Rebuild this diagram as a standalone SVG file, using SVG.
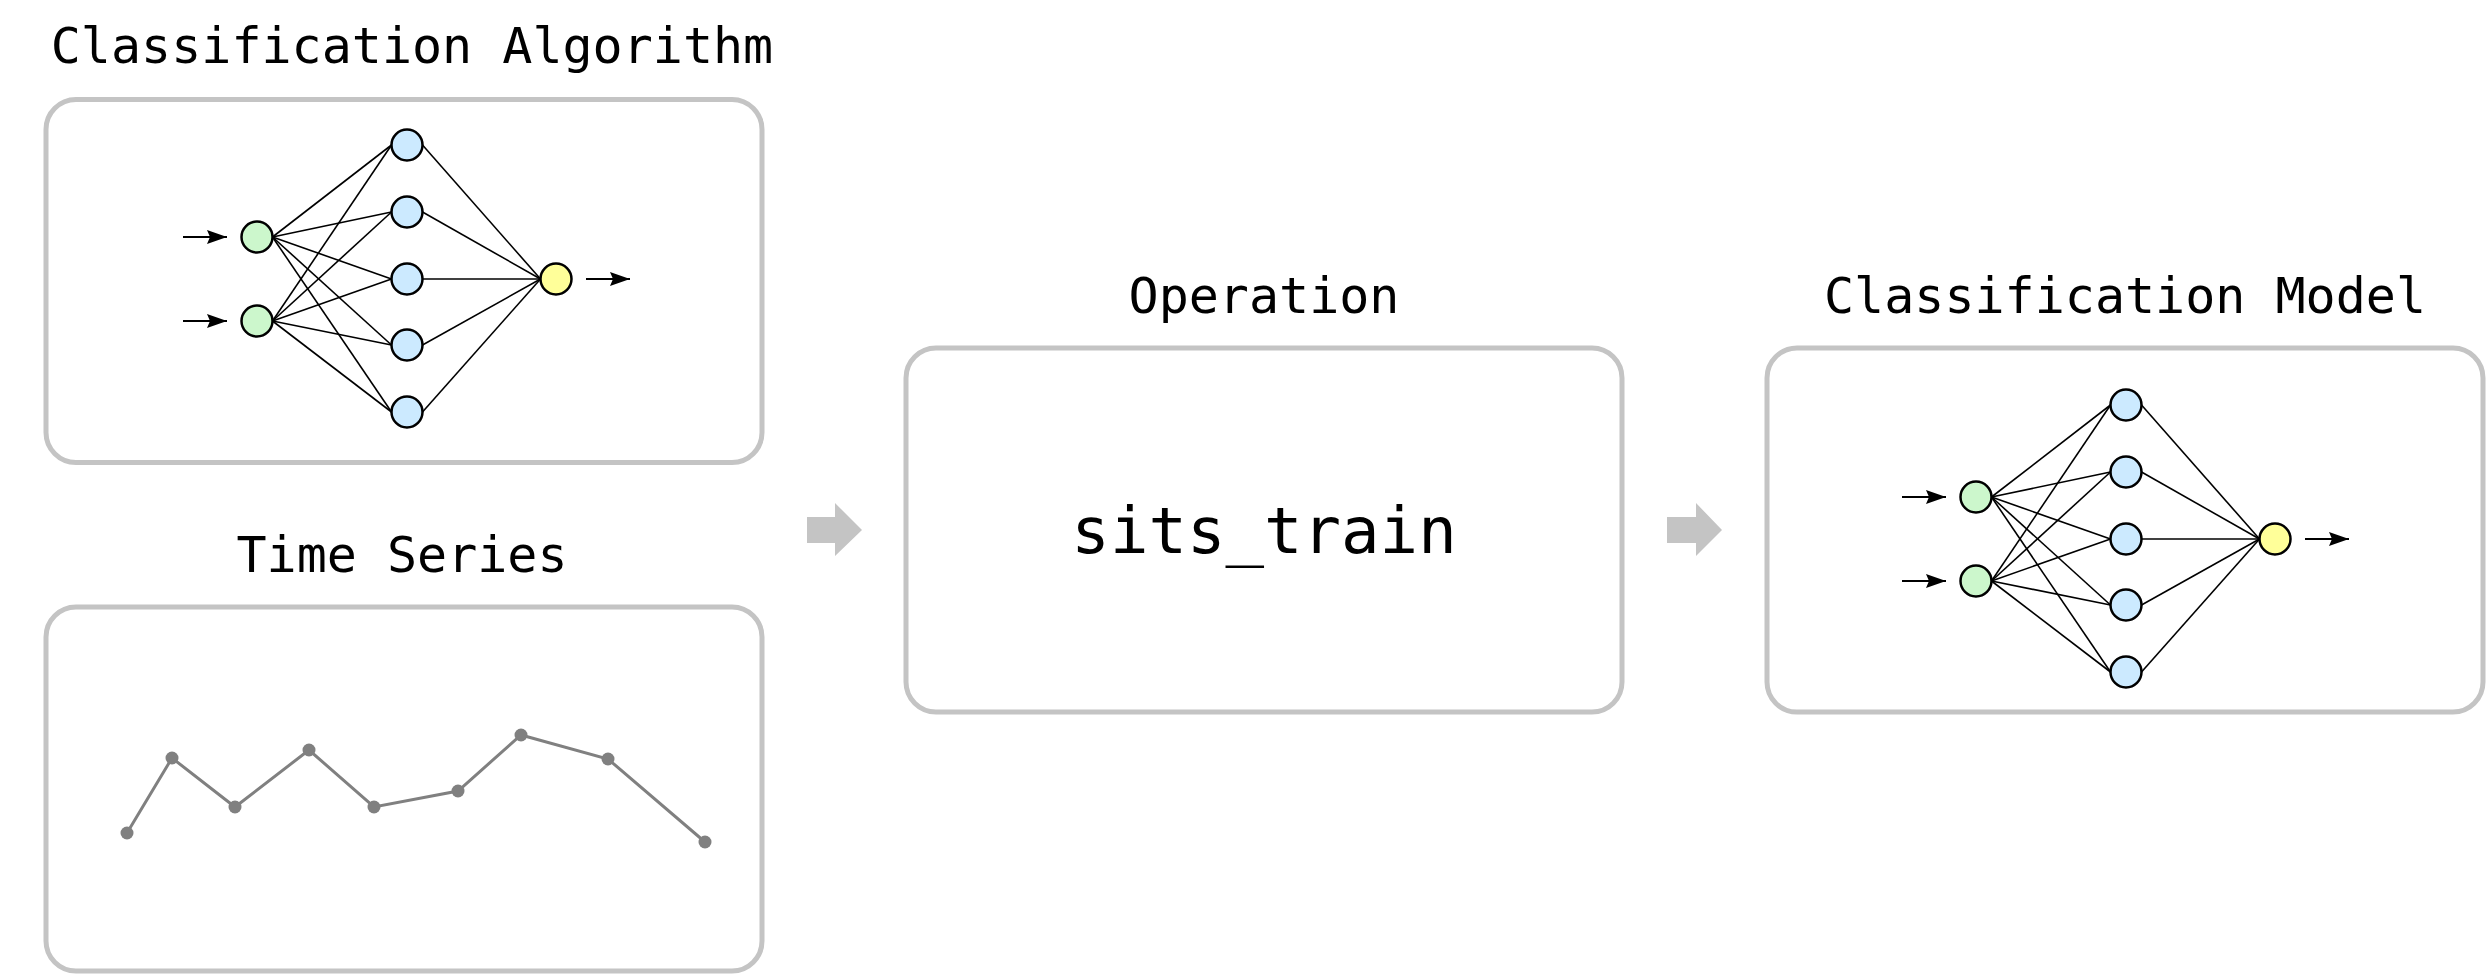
<svg xmlns="http://www.w3.org/2000/svg" xmlns:xlink="http://www.w3.org/1999/xlink" width="2488" height="976" viewBox="0 0 2488 976">
  <style>
    .box { fill: #ffffff; stroke: #c4c4c4; stroke-width: 5; }
    .title { font-family: "DejaVu Sans Mono", "Liberation Mono", monospace; font-size: 50px; fill: #000000; text-anchor: middle; }
    .code { font-family: "DejaVu Sans Mono", "Liberation Mono", monospace; font-size: 64px; fill: #000000; text-anchor: middle; }
    .edge { stroke: #000000; stroke-width: 1.6; fill: none; }
    .neuron { stroke: #000000; stroke-width: 2.5; }
    .in { fill: #ccf7cc; }
    .hid { fill: #cceaff; }
    .out { fill: #ffff99; }
    .io { stroke: #000000; stroke-width: 2; fill: none; marker-end: url(#ah); }
    .ts { stroke: #808080; stroke-width: 3; fill: none; }
    .tsdot { fill: #808080; }
    .flow { fill: #c4c4c4; }
  </style>
  <defs>
    <marker id="ah" markerUnits="userSpaceOnUse" markerWidth="22" markerHeight="16" refX="20" refY="7" orient="auto">
      <path d="M0,0 L20,7 L0,14 L3,7 Z" fill="#000000"/>
    </marker>
    <g id="nn">
      <g class="nn-edges">
        <line class="edge" x1="272.5" y1="237" x2="391.5" y2="145"/>
        <line class="edge" x1="272.5" y1="237" x2="391.5" y2="212"/>
        <line class="edge" x1="272.5" y1="237" x2="391.5" y2="279"/>
        <line class="edge" x1="272.5" y1="237" x2="391.5" y2="345"/>
        <line class="edge" x1="272.5" y1="237" x2="391.5" y2="412"/>
        <line class="edge" x1="272.5" y1="321" x2="391.5" y2="145"/>
        <line class="edge" x1="272.5" y1="321" x2="391.5" y2="212"/>
        <line class="edge" x1="272.5" y1="321" x2="391.5" y2="279"/>
        <line class="edge" x1="272.5" y1="321" x2="391.5" y2="345"/>
        <line class="edge" x1="272.5" y1="321" x2="391.5" y2="412"/>
        <line class="edge" x1="422.5" y1="145" x2="540.5" y2="279"/>
        <line class="edge" x1="422.5" y1="212" x2="540.5" y2="279"/>
        <line class="edge" x1="422.5" y1="279" x2="540.5" y2="279"/>
        <line class="edge" x1="422.5" y1="345" x2="540.5" y2="279"/>
        <line class="edge" x1="422.5" y1="412" x2="540.5" y2="279"/>
        <line class="io" x1="183" y1="237" x2="227" y2="237"/>
        <line class="io" x1="183" y1="321" x2="227" y2="321"/>
        <line class="io" x1="586" y1="279" x2="630" y2="279"/>
      </g>
      <circle class="neuron in" cx="257" cy="237" r="15.5"/>
      <circle class="neuron in" cx="257" cy="321" r="15.5"/>
      <circle class="neuron hid" cx="407" cy="145" r="15.5"/>
      <circle class="neuron hid" cx="407" cy="212" r="15.5"/>
      <circle class="neuron hid" cx="407" cy="279" r="15.5"/>
      <circle class="neuron hid" cx="407" cy="345" r="15.5"/>
      <circle class="neuron hid" cx="407" cy="412" r="15.5"/>
      <circle class="neuron out" cx="556" cy="279" r="15.5"/>
    </g>
  </defs>
  <rect width="2488" height="976" fill="#ffffff"/>

  <g id="connectors">
    <polygon class="flow" points="807,517 835,517 835,503 862,530 835,556 835,543 807,543"/>
    <polygon class="flow" points="1667,517 1696,517 1696,503 1722,530 1696,556 1696,543 1667,543"/>
  </g>

  <g id="classification-algorithm">
    <text class="title" x="412" y="63">Classification Algorithm</text>
    <rect class="box" x="46" y="99.5" width="716" height="363" rx="30" ry="30"/>
    <use xlink:href="#nn" href="#nn"/>
  </g>

  <g id="time-series">
    <text class="title" x="402" y="572">Time Series</text>
    <rect class="box" x="46" y="607" width="716" height="364" rx="30" ry="30"/>
    <polyline class="ts" points="127,833 172,758 235,807 309,750 374,807 458,791 521,735 608,759 705,842"/>
    <circle class="tsdot" cx="127" cy="833" r="6.5"/>
    <circle class="tsdot" cx="172" cy="758" r="6.5"/>
    <circle class="tsdot" cx="235" cy="807" r="6.5"/>
    <circle class="tsdot" cx="309" cy="750" r="6.5"/>
    <circle class="tsdot" cx="374" cy="807" r="6.5"/>
    <circle class="tsdot" cx="458" cy="791" r="6.5"/>
    <circle class="tsdot" cx="521" cy="735" r="6.5"/>
    <circle class="tsdot" cx="608" cy="759" r="6.5"/>
    <circle class="tsdot" cx="705" cy="842" r="6.5"/>
  </g>

  <g id="operation">
    <text class="title" x="1264" y="313">Operation</text>
    <rect class="box" x="906" y="348" width="716" height="364" rx="30" ry="30"/>
    <text class="code" x="1264" y="553">sits_train</text>
  </g>

  <g id="classification-model">
    <text class="title" x="2125" y="313">Classification Model</text>
    <rect class="box" x="1767" y="348" width="716" height="364" rx="30" ry="30"/>
    <use xlink:href="#nn" href="#nn" transform="translate(1719,260)"/>
  </g>
</svg>
